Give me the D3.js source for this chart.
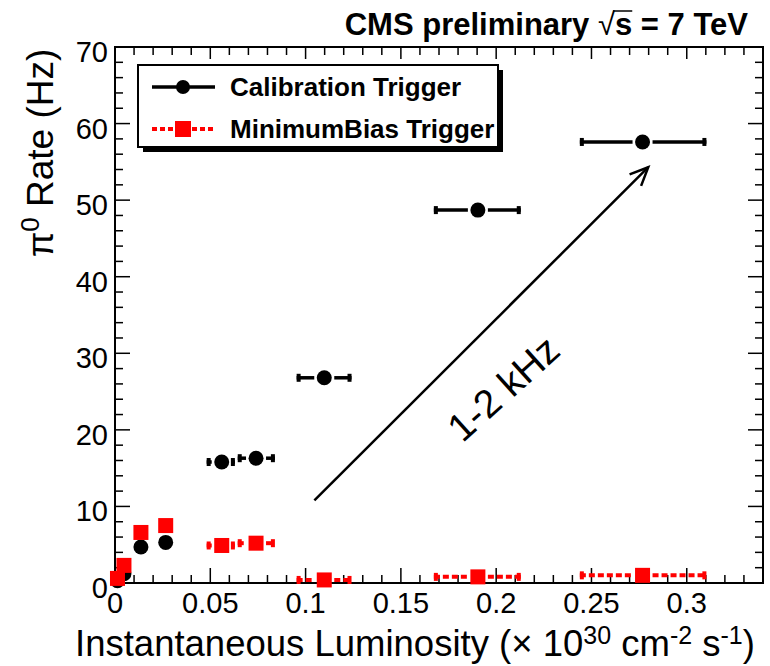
<!DOCTYPE html>
<html>
<head>
<meta charset="utf-8">
<script src="https://cdn.jsdelivr.net/npm/d3@7"></script>
<style>
  html, body { margin: 0; padding: 0; background: #fff; }
  svg text { font-family: "Liberation Sans", Arial, Helvetica, sans-serif; }
</style>
</head>
<body>
<svg id="chart" width="770" height="666"></svg>
<script>
// ---------- data ----------
const calibLumi   = [0.0013, 0.0047, 0.0136, 0.0266, 0.056, 0.074, 0.1098, 0.1904, 0.2768];
const calibRate   = [0.3,    1.2,    4.7,    5.3,    15.8,  16.3,  26.8,   48.7,   57.6];
const calibLumiLo = [0.0013, 0.0047, 0.0136, 0.0266, 0.0481, 0.0644, 0.0953, 0.1673, 0.2439];
const calibLumiHi = [0.0013, 0.0047, 0.0136, 0.0266, 0.0629, 0.0839, 0.1241, 0.2129, 0.3103];

const mbLumi   = [0.0013, 0.0047, 0.0136, 0.0266, 0.056, 0.074, 0.1098, 0.1904, 0.2768];
const mbRate   = [0.6,    2.3,    6.6,    7.5,    4.9,   5.2,   0.4,    0.8,    1.0];
const mbLumiLo = [0.0013, 0.0047, 0.0136, 0.0266, 0.0481, 0.0644, 0.0953, 0.1673, 0.2439];
const mbLumiHi = [0.0013, 0.0047, 0.0136, 0.0266, 0.0629, 0.0839, 0.1241, 0.2129, 0.3103];

const xTickValues = [0, 0.05, 0.1, 0.15, 0.2, 0.25, 0.3];
const xTickLabels = ["0", "0.05", "0.1", "0.15", "0.2", "0.25", "0.3"];
const yTickValues = [0, 10, 20, 30, 40, 50, 60, 70];
const yTickLabels = ["0", "10", "20", "30", "40", "50", "60", "70"];

const seriesNames = ["Calibration Trigger", "MinimumBias Trigger"];
const arrowFrom = [0.1046, 10.8];
const arrowTo   = [0.2798, 54.3];
const annotationText = "1-2 kHz";

// ---------- layout ----------
const svg = d3.select("#chart");
const L = 115, R = 763, T = 47, B = 583;
const x = d3.scaleLinear().domain([0, 0.34]).range([L, R]);
const y = d3.scaleLinear().domain([0, 70]).range([B, T]);

// ---------- frame & ticks ----------
const gAx = svg.append("g");
const xMinor = d3.range(0, 0.3401, 0.01).map(v => +v.toFixed(3));
const yMinor = d3.range(0, 70.01, 2);

function tickLen(isMajor) { return isMajor ? 15 : 8; }
const xMajSet = new Set(xTickValues.map(v => v.toFixed(3)));
xMinor.forEach(v => {
  const maj = xMajSet.has(v.toFixed(3));
  const px = x(v);
  gAx.append("line").attr("x1", px).attr("x2", px).attr("y1", B).attr("y2", B - tickLen(maj))
     .attr("stroke", "#000").attr("stroke-width", 1.5);
  gAx.append("line").attr("x1", px).attr("x2", px).attr("y1", T).attr("y2", T + (maj ? 12 : 8))
     .attr("stroke", "#000").attr("stroke-width", 1.5);
});
const yMajSet = new Set(yTickValues);
yMinor.forEach(v => {
  const maj = yMajSet.has(v);
  const py = y(v);
  gAx.append("line").attr("x1", L).attr("x2", L + tickLen(maj)).attr("y1", py).attr("y2", py)
     .attr("stroke", "#000").attr("stroke-width", 1.5);
  gAx.append("line").attr("x1", R).attr("x2", R - tickLen(maj)).attr("y1", py).attr("y2", py)
     .attr("stroke", "#000").attr("stroke-width", 1.5);
});
gAx.append("rect").attr("x", L).attr("y", T).attr("width", R - L).attr("height", B - T)
   .attr("fill", "none").attr("stroke", "#000").attr("stroke-width", 2);

// tick labels
svg.append("g").selectAll("text").data(xTickValues).join("text")
  .attr("x", d => x(d)).attr("y", 613)
  .attr("text-anchor", "middle").attr("font-size", 29).attr("fill", "#000")
  .text((d, i) => xTickLabels[i]);
svg.append("g").selectAll("text").data(yTickValues).join("text")
  .attr("x", 108).attr("y", d => y(d) + 15)
  .attr("text-anchor", "end").attr("font-size", 29).attr("fill", "#000")
  .text((d, i) => yTickLabels[i]);

// axis titles
const xt = svg.append("text").attr("x", 75).attr("y", 656).attr("font-size", 36.5).attr("fill", "#000");
xt.append("tspan").text("Instantaneous Luminosity (\u00D7 10");
xt.append("tspan").attr("dy", -12).attr("font-size", 25).text("30");
xt.append("tspan").attr("dy", 12).text(" cm");
xt.append("tspan").attr("dy", -12).attr("font-size", 25).text("-2");
xt.append("tspan").attr("dy", 12).text(" s");
xt.append("tspan").attr("dy", -12).attr("font-size", 25).text("-1");
xt.append("tspan").attr("dy", 12).text(")");

const yt = svg.append("text").attr("transform", "translate(53,153) rotate(-90)")
  .attr("text-anchor", "middle").attr("font-size", 37).attr("fill", "#000");
yt.append("tspan").text("\u03C0");
yt.append("tspan").attr("dy", -14).attr("font-size", 26).text("0");
yt.append("tspan").attr("dy", 14).text(" Rate (Hz)");

// title
const title = svg.append("text").attr("x", 748).attr("y", 35).attr("text-anchor", "end")
  .attr("font-size", 31).attr("font-weight", "bold").attr("fill", "#000");
title.append("tspan").text("CMS preliminary ");
title.append("tspan").attr("font-weight", "normal").text("\u221A");
title.append("tspan").text("s");
title.append("tspan").text(" = 7 TeV");
{
  const n = title.node();
  const e1 = n.getEndPositionOfChar(17);
  const sqrtEnd = n.getEndPositionOfChar(16);
  svg.append("line").attr("x1", sqrtEnd.x - 2).attr("x2", e1.x).attr("y1", 35 - 24).attr("y2", 35 - 24)
    .attr("stroke", "#000").attr("stroke-width", 1.5);
}

// ---------- data marks ----------
function drawSeries(lumi, rate, lo, hi, color, dash, shape) {
  const g = svg.append("g");
  const gap = 10;
  const sw = dash ? 4 : 3.5;
  lumi.forEach((lv, i) => {
    const cx = x(lv), cy = y(rate[i]);
    const xl = x(lo[i]), xh = x(hi[i]);
    if (xh - xl > 1) {
      if (cx - gap > xl) {
        g.append("line").attr("x1", xl).attr("x2", cx - gap).attr("y1", cy).attr("y2", cy)
          .attr("stroke", color).attr("stroke-width", sw).attr("stroke-dasharray", dash);
        g.append("rect").attr("x", xl).attr("y", cy - 4).attr("width", 4).attr("height", 8).attr("fill", color);
      }
      if (cx + gap < xh) {
        g.append("line").attr("x1", cx + gap).attr("x2", xh).attr("y1", cy).attr("y2", cy)
          .attr("stroke", color).attr("stroke-width", sw).attr("stroke-dasharray", dash);
        g.append("rect").attr("x", xh - 4).attr("y", cy - 4).attr("width", 4).attr("height", 8).attr("fill", color);
      }
    }
    if (shape === "circle") {
      g.append("circle").attr("cx", cx).attr("cy", cy).attr("r", 7.5).attr("fill", color);
    } else {
      g.append("rect").attr("x", cx - 7.5).attr("y", cy - 7.5).attr("width", 15).attr("height", 15).attr("fill", color);
    }
  });
}
drawSeries(calibLumi, calibRate, calibLumiLo, calibLumiHi, "#000", null, "circle");
drawSeries(mbLumi, mbRate, mbLumiLo, mbLumiHi, "#ff0000", "6,3", "square");

// ---------- arrow & annotation ----------
{
  const x1 = x(arrowFrom[0]), y1 = y(arrowFrom[1]), x2 = x(arrowTo[0]), y2 = y(arrowTo[1]);
  svg.append("line").attr("x1", x1).attr("y1", y1).attr("x2", x2).attr("y2", y2)
    .attr("stroke", "#000").attr("stroke-width", 2.5);
  const ang = Math.atan2(y2 - y1, x2 - x1);
  const hl = 20, ha = 0.42;
  const p1 = [x2 - hl * Math.cos(ang - ha), y2 - hl * Math.sin(ang - ha)];
  const p2 = [x2 - hl * Math.cos(ang + ha), y2 - hl * Math.sin(ang + ha)];
  svg.append("path").attr("d", `M${p1[0]},${p1[1]}L${x2},${y2}L${p2[0]},${p2[1]}`)
    .attr("fill", "none").attr("stroke", "#000").attr("stroke-width", 2.5);
}
svg.append("text").attr("transform", "translate(503,388) rotate(-42)")
  .attr("text-anchor", "middle").attr("dy", "0.36em").attr("font-size", 39).attr("fill", "#000")
  .text(annotationText);

// ---------- legend ----------
{
  const lx = 138, ly = 65, lw = 360, lh = 82;
  svg.append("rect").attr("x", lx + 5).attr("y", ly + 5).attr("width", lw).attr("height", lh).attr("fill", "#000");
  svg.append("rect").attr("x", lx).attr("y", ly).attr("width", lw).attr("height", lh)
    .attr("fill", "#fff").attr("stroke", "#000").attr("stroke-width", 2);
  const rows = [87, 129];
  svg.append("line").attr("x1", 152).attr("x2", 215).attr("y1", rows[0]).attr("y2", rows[0])
    .attr("stroke", "#000").attr("stroke-width", 3.5);
  svg.append("circle").attr("cx", 183).attr("cy", rows[0]).attr("r", 7).attr("fill", "#000");
  svg.append("line").attr("x1", 152).attr("x2", 215).attr("y1", rows[1]).attr("y2", rows[1])
    .attr("stroke", "#ff0000").attr("stroke-width", 4).attr("stroke-dasharray", "5,3");
  svg.append("rect").attr("x", 175).attr("y", rows[1] - 8).attr("width", 16).attr("height", 16).attr("fill", "#ff0000");
  svg.append("g").selectAll("text").data(seriesNames).join("text")
    .attr("x", 230).attr("y", (d, i) => rows[i] + 9)
    .attr("font-size", 26).attr("font-weight", "bold").attr("fill", "#000")
    .text(d => d);
}
</script>
</body>
</html>
